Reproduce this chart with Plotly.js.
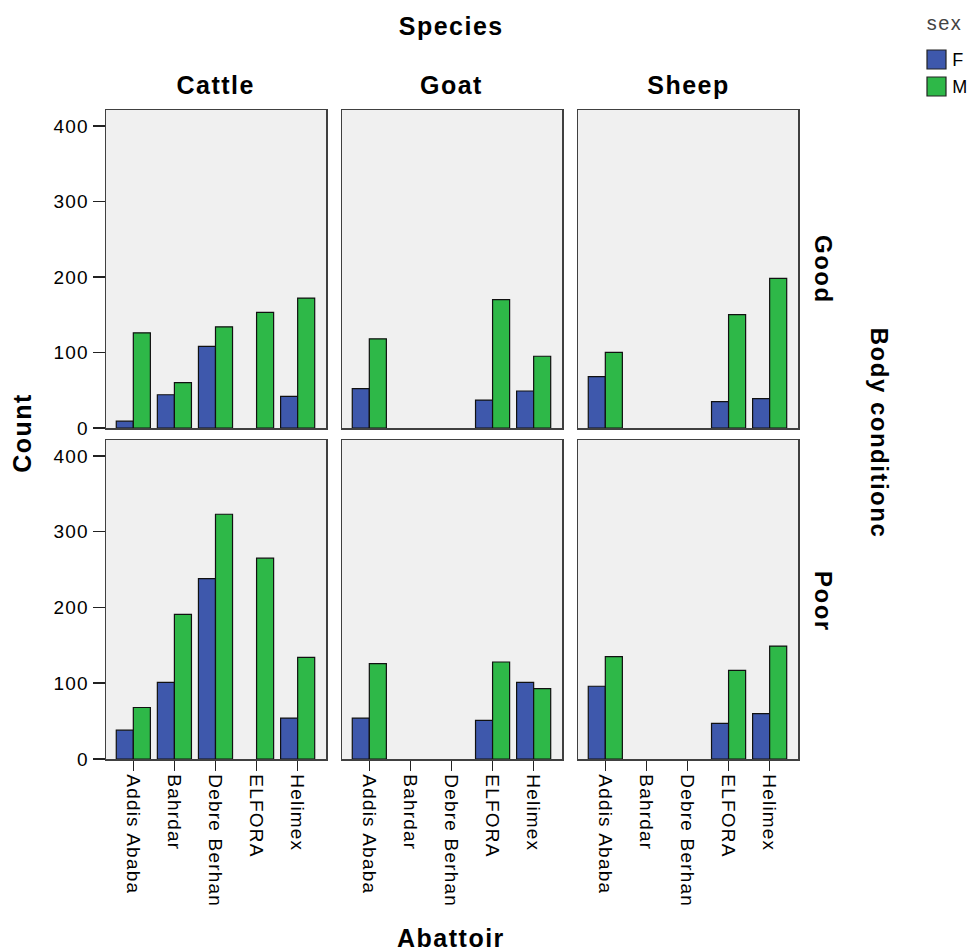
<!DOCTYPE html>
<html>
<head>
<meta charset="utf-8">
<script src="https://cdn.plot.ly/plotly-3.0.1.min.js"></script>
<style>
  html, body { margin: 0; padding: 0; background: #fff; }
  #chart { width: 971px; height: 951px; }
</style>
</head>
<body>
<div id="chart"></div>
<script>
// ---- data ----
const abattoirs = ['Addis Ababa', 'Bahrdar', 'Debre Berhan', 'ELFORA', 'Helimex'];
const speciesNames = ['Cattle', 'Goat', 'Sheep'];
const conditionNames = ['Good', 'Poor'];
const sexNames = ['F', 'M'];

const cattleGoodF = [9, 44, 108, null, 42];
const cattleGoodM = [126, 60, 134, 153, 172];
const cattlePoorF = [38, 101, 238, null, 54];
const cattlePoorM = [68, 191, 323, 265, 134];

const goatGoodF = [52, null, null, 37, 49];
const goatGoodM = [118, null, null, 170, 95];
const goatPoorF = [54, null, null, 51, 101];
const goatPoorM = [126, null, null, 128, 93];

const sheepGoodF = [68, null, null, 35, 39];
const sheepGoodM = [100, null, null, 150, 198];
const sheepPoorF = [96, null, null, 47, 60];
const sheepPoorM = [135, null, null, 117, 149];

const yTicks = [0, 100, 200, 300, 400];

// ---- styling ----
const W = 971, H = 951;
const FONT = 'Liberation Sans, Arial, sans-serif';
const sexColors = ['#3E58AC', '#2EB848'];
const borderCol = '#404040';

const panels = [
  [0, 0, cattleGoodF, cattleGoodM],
  [1, 0, goatGoodF, goatGoodM],
  [2, 0, sheepGoodF, sheepGoodM],
  [0, 1, cattlePoorF, cattlePoorM],
  [1, 1, goatPoorF, goatPoorM],
  [2, 1, sheepPoorF, sheepPoorM]
];

const colPx = [[106, 326], [342, 562], [578, 798]];
const rowPx = [[110, 428], [440, 759]];

const traces = [];
const layout = {
  width: W, height: H,
  margin: { l: 0, r: 0, t: 0, b: 0, autoexpand: false },
  paper_bgcolor: '#ffffff',
  plot_bgcolor: '#F0F0F0',
  barmode: 'group',
  bargap: 0.17,
  bargroupgap: 0,
  font: { family: FONT, color: '#000' },
  showlegend: false,
  annotations: [],
  shapes: [],
  hovermode: false
};

panels.forEach((p, i) => {
  const [si, ci, fv, mv] = p;
  const n = i + 1;
  const xa = n === 1 ? 'x' : 'x' + n;
  const ya = n === 1 ? 'y' : 'y' + n;
  const xKey = n === 1 ? 'xaxis' : 'xaxis' + n;
  const yKey = n === 1 ? 'yaxis' : 'yaxis' + n;
  const bottom = ci === 1;
  const left = si === 0;

  [fv, mv].forEach((vals, k) => {
    traces.push({
      type: 'bar', x: abattoirs, y: vals, name: sexNames[k],
      xaxis: xa, yaxis: ya, legendgroup: sexNames[k], showlegend: false,
      marker: { color: sexColors[k], line: { color: '#111', width: 1.2 } }
    });
  });

  layout[xKey] = {
    domain: [colPx[si][0] / W, colPx[si][1] / W],
    anchor: ya,
    type: 'category',
    categoryorder: 'array', categoryarray: abattoirs,
    range: [-0.665, 4.69],
    showline: true, mirror: true, linecolor: borderCol, linewidth: 1.5,
    showgrid: false, zeroline: false, fixedrange: true,
    ticks: bottom ? 'outside' : '', ticklen: 10, tickwidth: 1.5, tickcolor: '#222',
    showticklabels: bottom, tickangle: 90,
    tickfont: { size: 19, family: FONT, color: '#000' }
  };
  layout[yKey] = {
    domain: [1 - rowPx[ci][1] / H, 1 - rowPx[ci][0] / H],
    anchor: xa,
    range: [0, 421],
    tickvals: yTicks, ticktext: yTicks.map(String),
    showline: true, mirror: true, linecolor: borderCol, linewidth: 1.5,
    showgrid: false, zeroline: false, fixedrange: true,
    ticks: left ? 'outside' : '', ticklen: 12, tickwidth: 1.5, tickcolor: '#222',
    showticklabels: left,
    tickfont: { size: 19, family: FONT, color: '#000' }
  };
});

function ann(text, xpx, ypx, size, angle, opts) {
  const o = opts || {};
  layout.annotations.push({
    text: o.plain ? text : '<b>' + text + '</b>', xref: 'paper', yref: 'paper',
    x: xpx / W, y: 1 - ypx / H, xanchor: o.xanchor || 'center', yanchor: 'middle',
    showarrow: false, textangle: angle || 0,
    font: { size: size, family: FONT, color: o.color || '#000' }
  });
}

ann('Species', 451, 26, 25);
speciesNames.forEach((s, i) => ann(s, (colPx[i][0] + colPx[i][1]) / 2, 85, 25));
ann('Count', 22, 433, 25, -90);
ann('Abattoir', 451, 938, 25);
ann(conditionNames[0], 824, 269, 24, 90);
ann(conditionNames[1], 824, 601, 24, 90);
ann('Body conditionc', 880, 433, 24, 90);

// legend (manual)
ann('sex', 927, 23, 20, 0, { plain: true, xanchor: 'left', color: '#444' });
sexNames.forEach((s, k) => {
  const y0 = 50 + k * 27;
  layout.shapes.push({
    type: 'rect', xref: 'paper', yref: 'paper',
    x0: 927 / W, x1: 946 / W, y0: 1 - y0 / H, y1: 1 - (y0 + 19) / H,
    fillcolor: sexColors[k], line: { color: '#222', width: 1.2 }
  });
  ann(s, 951, y0 + 10, 18, 0, { plain: true, xanchor: 'left' });
});

Plotly.newPlot('chart', traces, layout, { displayModeBar: false, staticPlot: true }).then(() => {
  document.querySelectorAll('.xaxislayer-above text, .yaxislayer-above text').forEach(t => {
    t.style.setProperty('letter-spacing', '1.2px', 'important');
  });
  document.querySelectorAll('.annotation-text').forEach(t => {
    t.style.setProperty('letter-spacing', '1.5px', 'important');
  });
});
</script>
</body>
</html>
